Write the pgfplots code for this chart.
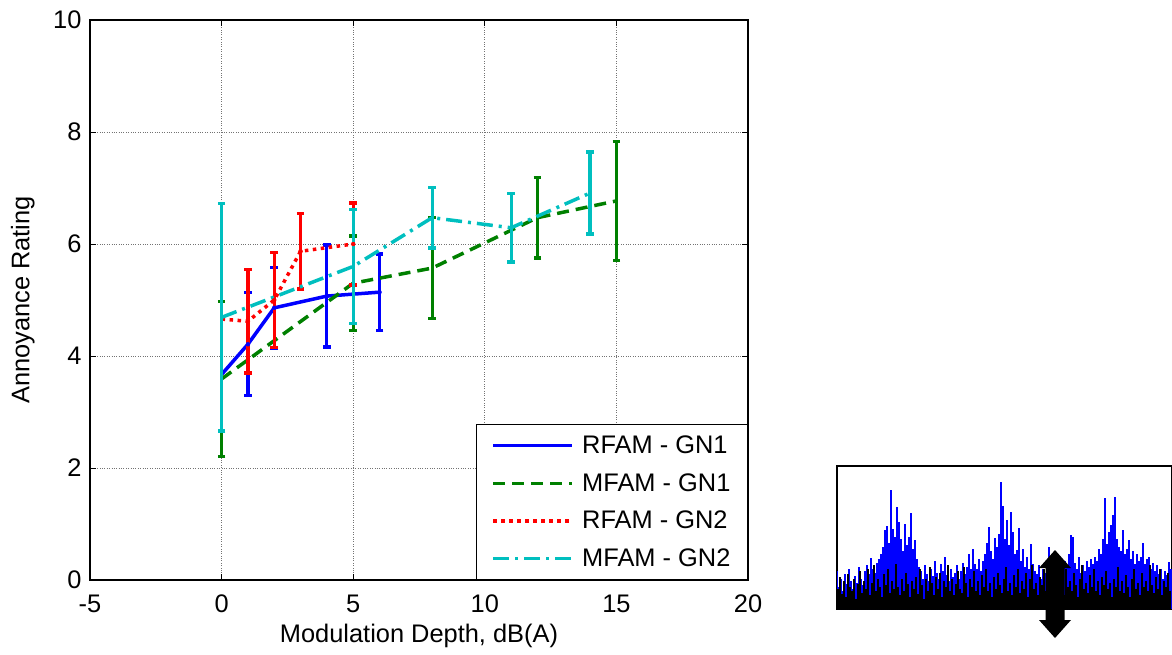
\documentclass[border=0pt]{standalone}
\usepackage{fontspec}
\setmainfont{Liberation Sans}
\usepackage{pgfplots}
\pgfplotsset{compat=1.18}
\usepackage{pgfplotstable}

\pgfplotstableread{
x y e
0 3.67 0.90
1 4.21 0.92
2 4.86 0.72
4 5.07 0.91
6 5.14 0.68
}\rfamA
\pgfplotstableread{
x y e
0 3.59 1.38
5 5.30 0.84
8 5.57 0.90
12 6.47 0.72
15 6.77 1.06
}\mfamA
\pgfplotstableread{
x y e
0 4.66 1.00
1 4.62 0.92
2 5.00 0.85
3 5.87 0.67
5 6.00 0.73
}\rfamB
\pgfplotstableread{
x y e
0 4.69 2.03
5 5.60 1.02
8 6.47 0.54
11 6.29 0.61
14 6.91 0.73
}\mfamB

\definecolor{mgreen}{rgb}{0,0.5,0}
\definecolor{mcyan}{rgb}{0,0.75,0.75}
\newcommand{\bigfont}{\fontsize{25.5}{30}\selectfont}

\begin{document}
\begin{tikzpicture}
\path[use as bounding box] (0bp,0bp) rectangle (1172bp,-655bp);
\begin{axis}[
  at={(90bp,-580bp)}, anchor=south west,
  scale only axis, width=658bp, height=560bp,
  xmin=-5, xmax=20, ymin=0, ymax=10,
  xtick={-5,0,...,20}, ytick={0,2,...,10},
  tick align=inside, major tick length=6bp,
  grid=major, major grid style={gray!90!black, dotted, line width=1bp},
  axis line style={line width=1.3bp},
  every tick/.style={black, line width=1bp},
  tick label style={font=\bigfont},
  xticklabel style={yshift=-11bp},
  yticklabel style={xshift=-5bp},
  /pgf/number format/assume math mode=true,
  label style={font=\bigfont},
  xlabel={Modulation Depth, dB(A)},
  ylabel={Annoyance Rating},
  xlabel style={at={(axis description cs:0.5,-0.1)}, anchor=center},
  ylabel style={at={(axis description cs:-0.102,0.5)}, anchor=center},
  legend cell align=left,
  legend style={at={(rel axis cs:1,0)}, anchor=south east,
    draw=black, line width=1.2bp, fill=white, font=\bigfont,
    inner xsep=15bp, inner ysep=9.5bp, row sep=14.3bp,
    /tikz/every odd column/.append style={column sep=6bp}},
  legend image code/.code={\draw[#1] (0bp,0bp) -- (79bp,0bp);},
  error bars/y dir=both, error bars/y explicit,
  error bars/error bar style={solid, line width=3.2bp},
  error bars/error mark options={rotate=90, mark size=3.8bp, line width=3.4bp, solid},
]
% RFAM - GN1
\addplot[blue, line width=3.5bp, solid, error bars/y dir=none] table[x=x, y=y]{\rfamA};
\addlegendentry{RFAM - GN1}
\addplot[blue, only marks, mark=none, forget plot, skip coords between index={0}{1}]
  table[x=x, y=y, y error=e]{\rfamA};
% MFAM - GN1
\addplot[mgreen, line width=3.5bp, dash pattern=on 12bp off 7bp] table[x=x, y=y, y error=e]{\mfamA};
\addlegendentry{MFAM - GN1}
% RFAM - GN2
\addplot[red, line width=3.5bp, dash pattern=on 3.5bp off 4.5bp, error bars/y dir=none] table[x=x, y=y]{\rfamB};
\addlegendentry{RFAM - GN2}
\addplot[red, only marks, mark=none, forget plot, skip coords between index={0}{1}]
  table[x=x, y=y, y error=e]{\rfamB};
% MFAM - GN2
\addplot[mcyan, line width=3.5bp, dash pattern=on 16bp off 6bp on 3bp off 6bp] table[x=x, y=y, y error=e]{\mfamB};
\addlegendentry{MFAM - GN2}
\end{axis}

\begin{axis}[
  at={(837bp,-609bp)}, anchor=south west,
  scale only axis, width=335bp, height=143bp,
  xmin=0, xmax=335, ymin=0, ymax=143,
  ticks=none, axis line style={line width=1.3bp},
]
\addplot[ycomb, no markers, blue, line width=1.2bp] coordinates {
(0,38)(2,22)(4,30)(6,18)(8,35)(10,25)(12,40)(14,28)(16,20)(18,33)
(20,26)(22,42)(24,30)(26,24)(28,38)(30,44)(32,35)(34,51)(36,40)(38,36)
(40,46)(42,50)(44,55)(46,62)(48,79)(50,83)(52,66)(54,119)(56,80)(58,72)
(60,102)(62,87)(64,70)(66,58)(68,85)(70,64)(72,72)(74,96)(76,60)(78,69)
(80,50)(82,42)(84,38)(86,30)(88,44)(90,35)(92,28)(94,40)(96,33)(98,48)
(100,36)(102,30)(104,45)(106,38)(108,52)(110,34)(112,28)(114,40)(116,32)(118,36)
(120,44)(122,30)(124,38)(126,46)(128,35)(130,42)(132,55)(134,40)(136,60)(138,45)
(140,40)(142,50)(144,38)(146,48)(148,55)(150,66)(152,82)(154,58)(156,50)(158,71)
(160,62)(162,75)(164,127)(166,103)(168,70)(170,89)(172,64)(174,97)(176,77)(178,55)
(180,59)(182,81)(184,48)(186,60)(188,42)(190,52)(192,40)(194,65)(196,45)(198,38)
(200,35)(202,44)(204,30)(206,40)(208,36)(210,48)(212,62)(214,38)(216,42)(218,30)
(220,45)(222,34)(224,40)(226,36)(228,48)(230,42)(232,55)(234,74)(236,72)(238,46)
(240,40)(242,52)(244,36)(246,44)(248,38)(250,48)(252,42)(254,50)(256,45)(258,52)
(260,48)(262,60)(264,55)(266,70)(268,111)(270,65)(272,77)(274,84)(276,94)(278,112)
(280,70)(282,62)(284,58)(286,79)(288,55)(290,60)(292,69)(294,50)(296,58)(298,45)
(300,55)(302,48)(304,52)(306,66)(308,45)(310,50)(312,52)(314,40)(316,46)(318,38)
(320,44)(322,35)(324,40)(326,30)(328,38)(330,34)(332,47)(334,40)
};
\addplot[ycomb, no markers, black, line width=1.1bp] coordinates {
(1,20)(3,32)(5,15)(7,28)(9,12)(11,35)(13,22)(15,18)(17,30)(19,10)
(21,25)(23,38)(25,16)(27,28)(29,20)(31,40)(33,14)(35,26)(37,44)(39,18)
(41,30)(43,22)(45,12)(47,35)(49,24)(51,40)(53,16)(55,28)(57,20)(59,45)
(61,22)(63,14)(65,30)(67,18)(69,36)(71,25)(73,12)(75,28)(77,20)(79,32)
(81,15)(83,40)(85,24)(87,10)(89,30)(91,18)(93,42)(95,26)(97,14)(99,32)
(101,20)(103,36)(105,12)(107,28)(109,22)(111,44)(113,18)(115,30)(117,14)(119,25)
(121,38)(123,20)(125,16)(127,42)(129,26)(131,12)(133,30)(135,22)(137,38)(139,18)
(141,28)(143,14)(145,34)(147,22)(149,40)(151,18)(153,26)(155,12)(157,32)(159,20)
(161,36)(163,24)(165,16)(167,30)(169,42)(171,18)(173,26)(175,14)(177,34)(179,22)
(181,40)(183,16)(185,28)(187,20)(189,36)(191,12)(193,30)(195,44)(197,20)(199,26)
(201,14)(203,32)(205,24)(207,40)(209,18)(211,28)(213,12)(215,34)(217,22)(219,38)
(221,16)(223,26)(225,30)(227,14)(229,40)(231,22)(233,28)(235,18)(237,36)(239,24)
(241,12)(243,30)(245,44)(247,20)(249,26)(251,16)(253,34)(255,22)(257,40)(259,18)
(261,28)(263,14)(265,32)(267,24)(269,38)(271,20)(273,26)(275,12)(277,30)(279,22)
(281,42)(283,18)(285,28)(287,16)(289,34)(291,22)(293,12)(295,30)(297,40)(299,20)
(301,26)(303,14)(305,36)(307,22)(309,28)(311,18)(313,44)(315,24)(317,16)(319,32)
(321,20)(323,40)(325,14)(327,28)(329,22)(331,36)(333,18)
};
\end{axis}
\fill[black] (1055bp,-550bp) -- (1071bp,-568bp) -- (1064.5bp,-568bp) -- (1064.5bp,-620bp)
  -- (1071bp,-620bp) -- (1055bp,-638bp) -- (1039bp,-620bp) -- (1045.5bp,-620bp)
  -- (1045.5bp,-568bp) -- (1039bp,-568bp) -- cycle;
\end{tikzpicture}
\end{document}
